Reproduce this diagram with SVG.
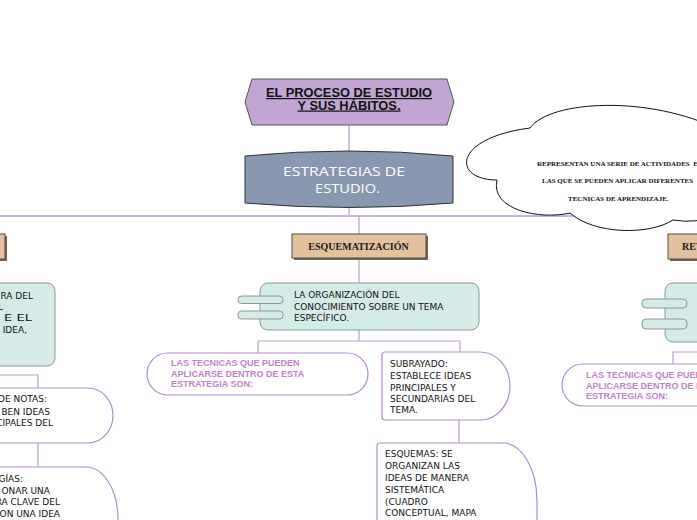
<svg xmlns="http://www.w3.org/2000/svg" width="697" height="520" viewBox="0 0 697 520">
<defs>
<style>
.conn{fill:none;stroke:#b99bd3;stroke-width:1.2}
.hub{fill:none;stroke:#cdb3e0;stroke-width:2}
.tan{fill:#e2c19f;stroke:#5a4a3a;stroke-width:1}
.shadow{fill:#6e655c}
.tanT{font-family:"Liberation Serif",serif;font-weight:bold;font-size:10px;fill:#1a1a1a}
.teal{fill:#d5ebe8;stroke:#8a9896;stroke-width:1}
.tab{fill:#d5ebe8;stroke:#8a9896;stroke-width:1}
.pill{fill:#fff;stroke:#b38bd0;stroke-width:1.2}
.pillT{font-family:"Liberation Sans",Arial,sans-serif;font-weight:bold;font-size:9px;fill:#c183c8}
.box{fill:#fff;stroke:#b38bd0;stroke-width:1.2}
.t{font-family:"DejaVu Sans",sans-serif;font-size:9px;fill:#111}
.cloudT{font-family:"Liberation Serif",serif;font-weight:bold;font-size:7px;fill:#111}
.ttl{font-family:"Liberation Sans",Arial,sans-serif;font-weight:bold;font-size:12px;fill:#111;text-decoration:underline}
.est{font-family:"Open Sans",sans-serif;font-size:13px;fill:#fff}
</style>
</defs>
<rect width="697" height="520" fill="#fff"/>

<g id="connectors">
<path class="conn" d="M349,125 V152"/>
<path class="conn" d="M349,207 V216"/>
<path class="hub" d="M-10,216 H760"/>
<path class="conn" d="M359,216 V234"/>
<path class="conn" d="M359,258 V283"/>
<path class="conn" d="M359,330 V341 M258,341 H460 M258,341 V353 M460,341 V352"/>
<path class="conn" d="M459,420 V443"/>
<path class="conn" d="M-10,375 H38 V388 M38,443 V467"/>
<path class="conn" d="M673,364 V352 H760"/>
</g>

<g id="title">
<polygon points="245,102 252,79 447,79 454,102 447,125 252,125" fill="#c3a5d3" stroke="#555" stroke-width="1"/>
<text class="ttl" x="349" y="97" text-anchor="middle" textLength="166" lengthAdjust="spacingAndGlyphs">EL PROCESO DE ESTUDIO</text>
<text class="ttl" x="349" y="109.5" text-anchor="middle" textLength="103" lengthAdjust="spacingAndGlyphs">Y SUS HÁBITOS.</text>
</g>

<g id="estrategias">
<path d="M245,156 Q349,146 453,156 V203 Q349,212 245,203 Z" fill="#8898b0" stroke="#333" stroke-width="1"/>
<text class="est" x="344" y="176" text-anchor="middle" textLength="122" lengthAdjust="spacingAndGlyphs">ESTRATEGIAS DE</text>
<text class="est" x="347.5" y="193" text-anchor="middle" textLength="65" lengthAdjust="spacingAndGlyphs">ESTUDIO.</text>
</g>

<g id="cloud">
<path d="M530,128 C550,100 650,95 720,130 L720,215 Q695,224 673,220 C650,235 595,235 570,213 C540,220 490,210 497,180 C452,180 452,138 530,128 Z" fill="#fff" stroke="#111" stroke-width="1"/>
<text class="cloudT" x="537" y="166" xml:space="preserve">REPRESENTAN UNA SERIE DE ACTIVIDADES  EN</text>
<text class="cloudT" x="542" y="183">LAS QUE SE PUEDEN APLICAR DIFERENTES</text>
<text class="cloudT" x="568" y="201">TECNICAS DE APRENDIZAJE.</text>
</g>

<g id="left-tan">
<rect class="shadow" x="-98" y="236" width="105" height="25"/>
<rect class="tan" x="-100" y="234" width="105" height="25"/>
</g>

<g id="left-teal">
<rect class="teal" x="-100" y="283" width="155" height="83" rx="8"/>
<text class="t" x="33" y="299" text-anchor="end">RA DEL</text>
<text class="t" x="-2" y="310">L</text>
<text class="t" x="4" y="321" textLength="28" lengthAdjust="spacingAndGlyphs">E EL</text>
<text class="t" x="27" y="333" text-anchor="end">IDEA,</text>
</g>

<g id="left-notas">
<path class="box" d="M-20,388 H88 A25 27.5 0 0 1 88,443 H-20 Z"/>
<text class="t" x="47" y="402" text-anchor="end">DE NOTAS:</text>
<text class="t" x="50" y="414.5" text-anchor="end">BEN IDEAS</text>
<text class="t" x="53" y="426" text-anchor="end">CIPALES DEL</text>
</g>

<g id="left-gias">
<path class="box" d="M-20,467 H86 A32 52 0 0 1 118,519 V530 H-20 Z"/>
<text class="t" x="23" y="482" text-anchor="end">GÍAS:</text>
<text class="t" x="50" y="494" text-anchor="end">ONAR UNA</text>
<text class="t" x="60" y="505" text-anchor="end">RA CLAVE DEL</text>
<text class="t" x="60" y="517" text-anchor="end">ON UNA IDEA</text>
</g>

<g id="esquematizacion">
<rect class="shadow" x="294" y="236" width="134" height="24"/>
<rect class="tan" x="292" y="234" width="134" height="24"/>
<text class="tanT" x="358.5" y="250" text-anchor="middle">ESQUEMATIZACIÓN</text>
</g>

<g id="organizacion">
<rect class="teal" x="260" y="283" width="219" height="47" rx="8"/>
<rect class="tab" x="238" y="296" width="45" height="7.5" rx="3.5"/>
<rect class="tab" x="238" y="311" width="45" height="8" rx="3.5"/>
<text class="t" x="294" y="298">LA ORGANIZACIÓN DEL</text>
<text class="t" x="294" y="310">CONOCIMIENTO SOBRE UN TEMA</text>
<text class="t" x="294" y="321">ESPECÍFICO.</text>
</g>

<g id="tecnicas-center">
<rect class="pill" x="147" y="353" width="221" height="42" rx="21"/>
<text class="pillT" x="171" y="366">LAS TECNICAS QUE PUEDEN</text>
<text class="pillT" x="171" y="376.7">APLICARSE DENTRO DE ESTA</text>
<text class="pillT" x="171" y="386.7">ESTRATEGIA SON:</text>
</g>

<g id="subrayado">
<path class="box" d="M385,352 H480 A30 34 0 0 1 480,420 H385 Q382,420 382,417 V355 Q382,352 385,352 Z"/>
<text class="t" x="390" y="367">SUBRAYADO:</text>
<text class="t" x="390" y="379">ESTABLECE IDEAS</text>
<text class="t" x="390" y="391">PRINCIPALES Y</text>
<text class="t" x="390" y="402">SECUNDARIAS DEL</text>
<text class="t" x="390" y="413">TEMA.</text>
</g>

<g id="esquemas">
<path class="box" d="M380,443 H503 A34 58 0 0 1 537,501 V530 H377 V446 Q377,443 380,443 Z"/>
<text class="t" x="385" y="457">ESQUEMAS: SE</text>
<text class="t" x="385" y="469">ORGANIZAN LAS</text>
<text class="t" x="385" y="481">IDEAS DE MANERA</text>
<text class="t" x="385" y="493">SISTEMÁTICA</text>
<text class="t" x="385" y="504.5">(CUADRO</text>
<text class="t" x="385" y="516">CONCEPTUAL, MAPA</text>
</g>

<g id="right-tan">
<rect class="shadow" x="670" y="236" width="134" height="25"/>
<rect class="tan" x="668" y="234" width="134" height="25"/>
<text class="tanT" x="682" y="250">REV</text>
</g>

<g id="right-teal">
<rect class="teal" x="665" y="283" width="140" height="59" rx="8"/>
<rect class="tab" x="642" y="299" width="45" height="9" rx="4"/>
<rect class="tab" x="642" y="319" width="45" height="10" rx="4"/>
</g>

<g id="tecnicas-right">
<rect class="pill" x="562" y="364" width="240" height="42" rx="21"/>
<text class="pillT" x="586" y="378">LAS TECNICAS QUE PUEDEN</text>
<text class="pillT" x="586" y="388.5">APLICARSE DENTRO DE ESTA</text>
<text class="pillT" x="586" y="399">ESTRATEGIA SON:</text>
</g>
</svg>
